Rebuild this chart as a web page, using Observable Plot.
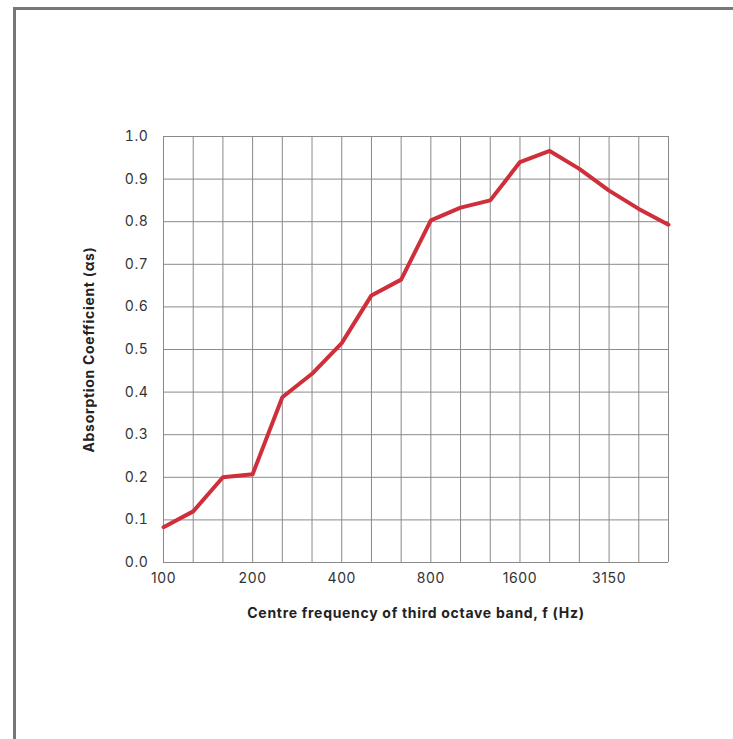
<!DOCTYPE html>
<html><head><meta charset="utf-8">
<script src="https://cdn.jsdelivr.net/npm/d3@7"></script>
<script src="https://cdn.jsdelivr.net/npm/@observablehq/plot@0.6"></script>
<style>
html,body{margin:0;padding:0;background:#fff;overflow:hidden}
#wrap{position:relative;width:733px;height:739px;overflow:hidden}
.fl{position:absolute;background:#777;pointer-events:none}
</style></head>
<body><div id="wrap"><div class="fl" style="left:13px;top:7px;width:720px;height:3px"></div><div class="fl" style="left:13px;top:7px;width:3px;height:732px"></div></div>
<script>
const frequencies = ["100","125","160","200","250","315","400","500","630","800","1000","1250","1600","2000","2500","3150","4000","5000"];
const absorption = [0.083,0.12,0.20,0.207,0.388,0.443,0.515,0.627,0.664,0.803,0.833,0.85,0.94,0.966,0.924,0.873,0.83,0.793];
const xTickLabels = ["100","200","400","800","1600","3150"];
const yTicks = [0,0.1,0.2,0.3,0.4,0.5,0.6,0.7,0.8,0.9,1.0];

const data = frequencies.map((f,i)=>({f, a: absorption[i]}));

const chart = Plot.plot({
  width: 733, height: 739,
  marginLeft: 163, marginRight: 65, marginTop: 136, marginBottom: 177,
  style: {fontFamily: "Inter, Roboto, sans-serif", fontSize: "14px", color: "#333", background: "transparent"},
  x: {type: "point", domain: frequencies, padding: 0, round: false},
  y: {domain: [0, 1]},
  marks: [
    Plot.gridX(frequencies, {stroke: "#8a8a8a", strokeOpacity: 1, strokeWidth: 1}),
    Plot.gridY(yTicks, {stroke: "#8a8a8a", strokeOpacity: 1, strokeWidth: 1}),
    Plot.axisY(yTicks, {tickSize: 0, tickPadding: 15, tickFormat: d3.format(".1f"), fontSize: 14,
      label: "Absorption Coefficient (αs)", labelAnchor: "center", labelArrow: "none", labelOffset: 79}),
    Plot.axisX(xTickLabels, {tickSize: 0, tickPadding: 11, fontSize: 14,
      label: "Centre frequency of third octave band, f (Hz)", labelAnchor: "center", labelArrow: "none", labelOffset: 55}),
    Plot.line(data, {x: "f", y: "a", stroke: "#cf2f3b", strokeWidth: 4, strokeLinejoin: "round", strokeLinecap: "round"})
  ]
});
d3.select(chart).selectAll("[aria-label='y-axis tick label'] text, [aria-label='x-axis tick label'] text, [aria-label='y-axis tick label'], [aria-label='x-axis tick label']")
  .style("letter-spacing", "0.6px").attr("fill", "#333");
d3.select(chart).selectAll("[aria-label='x-axis label'], [aria-label='y-axis label'], [aria-label='x-axis label'] text, [aria-label='y-axis label'] text")
  .attr("font-size", 14).style("font-size", "14px").style("font-weight", "bold").style("letter-spacing", "0.7px").attr("fill", "#222");
document.getElementById("wrap").prepend(chart);
</script></body></html>
